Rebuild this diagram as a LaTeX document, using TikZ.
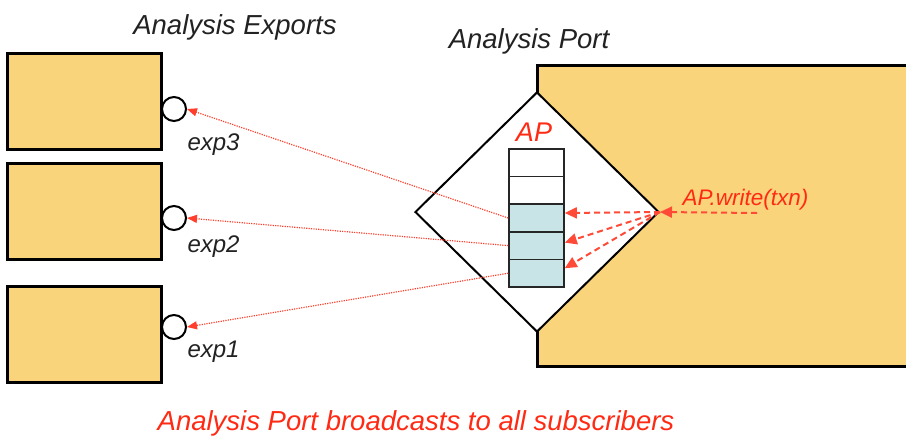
\documentclass[tikz,border=0pt]{standalone}
\usepackage{fontspec}
\setmainfont{Liberation Sans}
\usetikzlibrary{shapes.geometric,arrows.meta}
\definecolor{boxfill}{HTML}{FAD47B}
\definecolor{queuefill}{HTML}{C8E4E6}
\definecolor{sigred}{HTML}{FF2A14}
\definecolor{labelgray}{HTML}{222222}
\newcommand{\fsz}[1]{\fontsize{#1}{#1}\selectfont\itshape}
\begin{document}
\begin{tikzpicture}[x=1pt,y=-1pt,
  component/.style={draw=black, line width=3pt, fill=boxfill, inner sep=0pt,
    minimum width=154pt, minimum height=96pt},
  export/.style={circle, draw=black, line width=2pt, fill=white, inner sep=0pt,
    minimum size=24pt},
  cell/.style={draw=black!85, line width=1.6pt, inner sep=0pt,
    minimum width=55pt, minimum height=27.6pt},
  title/.style={anchor=base, text=labelgray, font=\fsz{27.5}},
  explabel/.style={anchor=base west, text=labelgray, font=\fsz{24}},
  redlabel/.style={text=sigred},
  broadcast/.style={sigred!90, line width=1.2pt, dash pattern=on 1.2pt off 1.2pt,
    -{Triangle[length=10pt,width=8pt]}},
  push/.style={sigred!85, line width=2pt, dash pattern=on 6pt off 4pt,
    -{Triangle[length=12pt,width=11pt]}}
]
\useasboundingbox (0,0) rectangle (906,437);
\clip (0,0) rectangle (906,437);

% subscriber components with their analysis exports
\node[component] (b3) at (84,101) {};
\node[component] (b2) at (84,211.5) {};
\node[component] (b1) at (84,334.5) {};
\node[export] (e3) at (174,109) {};
\node[export] (e2) at (174,218) {};
\node[export] (e1) at (174,327) {};
\node[explabel] (l3) at (184,150) {exp3};
\node[explabel] (l2) at (184,252) {exp2};
\node[explabel] (l1) at (184,357) {exp1};

% producer component and its analysis port
\node[draw=black, line width=3pt, fill=boxfill, inner sep=0pt, anchor=north west,
  minimum width=420pt, minimum height=301pt] (producer) at (536,64) {};
\node[diamond, draw=black, line width=2pt, fill=white, inner sep=0pt,
  minimum width=244pt, minimum height=240pt] (port) at (537,212) {};

% queue inside the port
\foreach \i/\y/\f in {1/162.8/white, 2/190.4/white, 3/218/queuefill,
                      4/245.6/queuefill, 5/273.2/queuefill}
  \node[cell, fill=\f] (q\i) at (536.5,\y) {};
\node[redlabel, anchor=base, font=\fsz{27}] (aplabel) at (534,141) {AP};

% titles
\node[title] (t1) at (235,34) {Analysis Exports};
\node[title] (t2) at (529,48) {Analysis Port};
\node[redlabel, anchor=base, font=\fsz{27.5}] (t3) at (416,430)
  {Analysis Port broadcasts to all subscribers};

% write call into the port
\node[redlabel, anchor=base west, font=\fsz{22.5}] (wlabel) at (679,205) {AP.write(txn)};
\coordinate (src) at (757,213);
\draw[push] (src) -- (port.east);
\draw[push] (port.east) -- ([yshift=5pt]q3.east);
\draw[push] (port.east) -- ([yshift=3pt]q4.east);
\draw[push] (port.east) -- ([yshift=5pt]q5.east);

% broadcast to every subscriber
\draw[broadcast] (q3.west) -- (e3.east);
\draw[broadcast] (q4.west) -- (e2.east);
\draw[broadcast] (q5.west) -- (e1.east);
\end{tikzpicture}
\end{document}
